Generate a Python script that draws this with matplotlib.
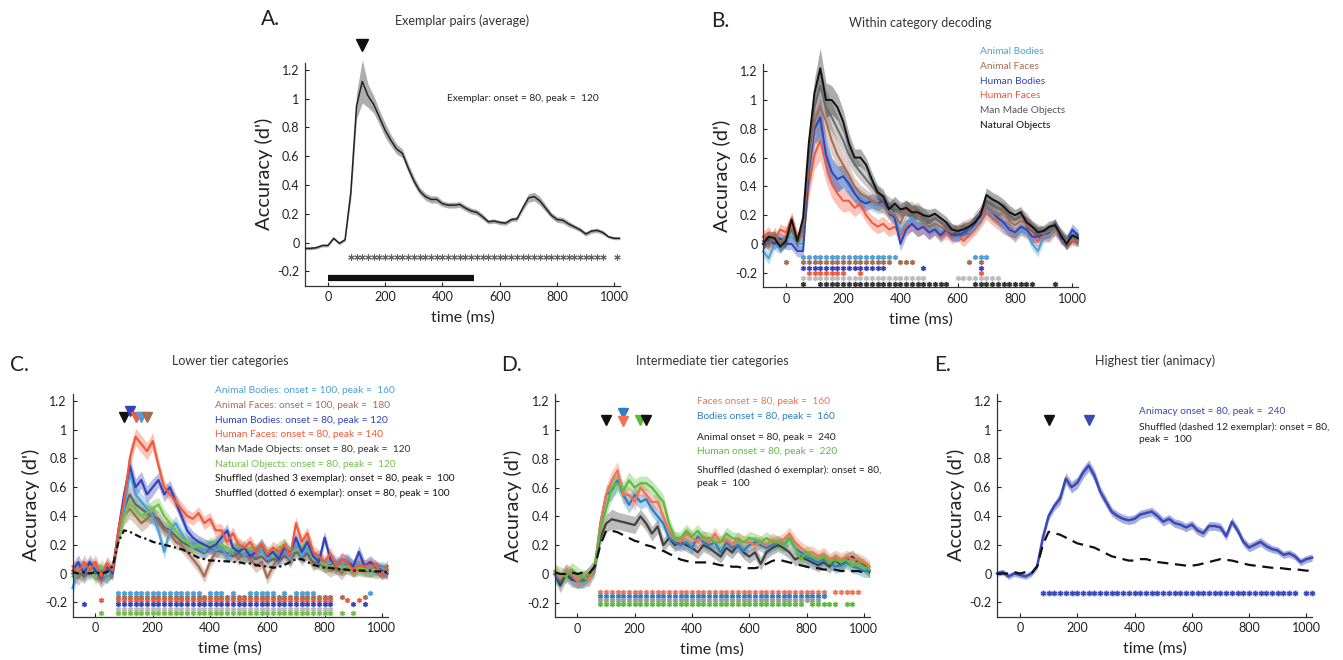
import numpy as np
import matplotlib
matplotlib.use("Agg")
import matplotlib.pyplot as plt

plt.rcParams['font.family'] = ['Lato', 'DejaVu Sans']

# time axis (ms), 20 ms bins
time_ms = list(range(-80, 1021, 20))

# ---- panel A: exemplar pairs
exemplar_mean = [-0.04, -0.04, -0.035, -0.02, -0.02, 0.03, -0.005, 0.02, 0.35, 0.95,
                 1.12, 1.02, 0.96, 0.87, 0.78, 0.71, 0.65, 0.62, 0.52, 0.43,
                 0.36, 0.32, 0.30, 0.30, 0.27, 0.26, 0.26, 0.265, 0.24, 0.22,
                 0.21, 0.18, 0.145, 0.15, 0.14, 0.135, 0.16, 0.165, 0.24, 0.31,
                 0.32, 0.29, 0.24, 0.19, 0.16, 0.155, 0.13, 0.11, 0.09, 0.06,
                 0.08, 0.085, 0.07, 0.04, 0.03, 0.03]
exemplar_sem = [0.01, 0.01, 0.01, 0.01, 0.01, 0.01, 0.01, 0.01, 0.05, 0.09,
                0.15, 0.08, 0.06, 0.05, 0.05, 0.04, 0.035, 0.03, 0.03, 0.03,
                0.025, 0.025, 0.025, 0.025, 0.02, 0.02, 0.02, 0.02, 0.02, 0.02,
                0.02, 0.02, 0.015, 0.015, 0.015, 0.015, 0.015, 0.015, 0.02, 0.03,
                0.03, 0.03, 0.025, 0.02, 0.02, 0.02, 0.02, 0.015, 0.015, 0.015,
                0.015, 0.015, 0.015, 0.01, 0.01, 0.01]
exemplar_sig = [(80, 960), (1010, 1010)]

# ---- panel B: within category decoding
b_labels = ['Animal Bodies', 'Animal Faces', 'Human Bodies', 'Human Faces',
            'Man Made Objects', 'Natural Objects']
b_animal_bodies = [-0.05, -0.10, 0.0, -0.03, 0.02, 0.05, 0.0, 0.0, 0.50, 0.80,
                   0.85, 0.60, 0.50, 0.45, 0.47, 0.40, 0.35, 0.32, 0.30, 0.28,
                   0.26, 0.27, 0.24, 0.20, 0.08, 0.15, 0.18, 0.14, 0.16, 0.10,
                   0.12, 0.08, 0.10, 0.06, 0.05, 0.10, 0.08, 0.12, 0.18, 0.25,
                   0.20, 0.18, 0.12, 0.10, 0.06, 0.10, 0.08, 0.00, -0.05, 0.05,
                   0.06, 0.10, 0.05, 0.00, 0.08, 0.02]
b_animal_faces = [0.05, -0.02, 0.08, 0.0, 0.05, 0.12, 0.03, 0.10, 0.55, 0.85,
                  0.95, 0.85, 0.72, 0.62, 0.55, 0.48, 0.40, 0.35, 0.33, 0.30,
                  0.28, 0.26, 0.22, 0.20, 0.14, 0.24, 0.25, 0.20, 0.15, 0.12,
                  0.14, 0.12, 0.10, 0.08, 0.10, 0.12, 0.14, 0.15, 0.20, 0.26,
                  0.22, 0.20, 0.22, 0.16, 0.13, 0.16, 0.14, 0.10, 0.08, 0.07,
                  0.09, 0.10, 0.06, 0.02, 0.04, 0.02]
b_human_bodies = [0.0, 0.03, 0.0, 0.04, 0.0, 0.0, -0.05, -0.05, 0.50, 0.80,
                  0.88, 0.62, 0.50, 0.45, 0.47, 0.42, 0.35, 0.30, 0.28, 0.30,
                  0.28, 0.30, 0.22, 0.18, 0.00, 0.10, 0.14, 0.10, 0.12, 0.08,
                  0.10, 0.06, 0.10, 0.06, 0.06, 0.08, 0.10, 0.14, 0.20, 0.26,
                  0.22, 0.18, 0.15, 0.10, 0.08, 0.12, 0.10, 0.05, 0.05, 0.07,
                  0.08, 0.14, 0.04, 0.02, 0.10, 0.06]
b_human_faces = [0.05, 0.08, 0.02, 0.10, 0.08, 0.18, 0.05, 0.05, 0.40, 0.62,
                 0.72, 0.55, 0.42, 0.35, 0.30, 0.30, 0.25, 0.28, 0.20, 0.15,
                 0.12, 0.14, 0.10, 0.12, 0.06, 0.12, 0.14, 0.10, 0.12, 0.08,
                 0.10, 0.05, 0.08, 0.04, 0.06, 0.02, 0.06, 0.10, 0.16, 0.22,
                 0.18, 0.15, 0.12, 0.10, 0.05, 0.10, 0.08, 0.05, 0.02, 0.06,
                 0.05, 0.10, 0.04, 0.00, 0.03, 0.02]
b_man_made = [0.02, 0.0, 0.05, 0.0, 0.03, 0.10, 0.0, 0.12, 0.60, 0.95,
              1.10, 0.95, 0.88, 0.80, 0.72, 0.62, 0.55, 0.50, 0.45, 0.40,
              0.35, 0.30, 0.28, 0.25, 0.22, 0.26, 0.22, 0.24, 0.20, 0.16,
              0.18, 0.15, 0.12, 0.10, 0.08, 0.12, 0.10, 0.18, 0.22, 0.30,
              0.28, 0.25, 0.24, 0.20, 0.17, 0.20, 0.18, 0.12, 0.10, 0.08,
              0.10, 0.12, 0.07, 0.03, 0.05, 0.03]
b_natural = [0.0, 0.05, 0.04, -0.02, 0.02, 0.17, 0.02, 0.18, 0.70, 1.05,
             1.22, 1.00, 1.00, 0.95, 0.85, 0.70, 0.60, 0.60, 0.55, 0.45,
             0.36, 0.33, 0.24, 0.28, 0.24, 0.25, 0.22, 0.22, 0.20, 0.19,
             0.21, 0.18, 0.15, 0.10, 0.09, 0.10, 0.12, 0.15, 0.20, 0.34,
             0.31, 0.29, 0.26, 0.22, 0.20, 0.22, 0.15, 0.12, 0.08, 0.09,
             0.12, 0.13, 0.06, 0.00, 0.06, 0.04]
b_sem = [0.04, 0.04, 0.04, 0.04, 0.04, 0.04, 0.04, 0.04, 0.08, 0.10,
         0.14, 0.12, 0.10, 0.09, 0.08, 0.07, 0.06, 0.06, 0.05, 0.05,
         0.05, 0.05, 0.05, 0.05, 0.05, 0.05, 0.05, 0.05, 0.05, 0.05,
         0.04, 0.04, 0.04, 0.04, 0.04, 0.04, 0.04, 0.04, 0.05, 0.05,
         0.05, 0.05, 0.05, 0.05, 0.04, 0.04, 0.04, 0.04, 0.04, 0.04,
         0.04, 0.04, 0.04, 0.04, 0.04, 0.04]
b_sig = [[(60, 380), (660, 700)],
         [(0, 0), (60, 360), (400, 440), (640, 640), (680, 680)],
         [(60, 320), (340, 340), (480, 480), (680, 680)],
         [(80, 200), (260, 260), (680, 680)],
         [(60, 480), (600, 740)],
         [(60, 60), (120, 560), (660, 820), (840, 860), (940, 940)]]
b_sig_y = [-0.09, -0.128, -0.165, -0.2, -0.24, -0.275]

# ---- panel C: lower tier categories
c_labels = ['Animal Bodies: onset = 100, peak =  160',
            'Animal Faces: onset = 100, peak =  180',
            'Human Bodies: onset = 80, peak = 120',
            'Human Faces: onset = 80, peak = 140',
            'Man Made Objects: onset = 80, peak =  120',
            'Natural Objects: onset = 80, peak =  120',
            'Shuffled (dashed 3 exemplar): onset = 80, peak =  100',
            'Shuffled (dotted 6 exemplar): onset = 80, peak = 100']
c_animal_bodies = [-0.10, 0.02, 0.05, 0.0, 0.05, 0.0, -0.02, 0.03, 0.25, 0.45,
                   0.70, 0.55, 0.50, 0.45, 0.40, 0.30, 0.15, 0.30, 0.35, 0.28,
                   0.22, 0.20, 0.18, 0.15, 0.20, 0.16, 0.18, 0.12, 0.15, 0.18,
                   0.12, 0.15, 0.14, 0.16, 0.10, 0.14, 0.12, 0.16, 0.10, 0.20,
                   0.12, 0.18, 0.10, 0.12, 0.06, 0.10, 0.08, 0.05, 0.10, 0.05,
                   0.08, 0.04, 0.05, 0.03, 0.04, 0.02]
c_animal_faces = [0.0, -0.03, 0.02, 0.05, 0.0, -0.05, 0.0, 0.02, 0.25, 0.40,
                  0.45, 0.40, 0.35, 0.38, 0.42, 0.35, 0.30, 0.28, 0.22, 0.20,
                  0.15, 0.10, 0.05, -0.02, 0.08, 0.15, 0.18, 0.12, 0.16, 0.10,
                  0.14, 0.10, 0.05, 0.08, -0.03, 0.05, 0.12, 0.15, 0.08, 0.18,
                  0.10, 0.14, 0.06, 0.10, 0.05, 0.02, 0.04, 0.00, 0.06, 0.03,
                  0.05, 0.03, 0.02, 0.04, 0.00, 0.05]
c_human_bodies = [0.02, 0.08, 0.0, 0.08, 0.02, -0.03, 0.05, 0.0, 0.30, 0.55,
                  0.75, 0.60, 0.65, 0.55, 0.60, 0.65, 0.55, 0.60, 0.50, 0.40,
                  0.30, 0.25, 0.22, 0.20, 0.18, 0.20, 0.25, 0.30, 0.18, 0.15,
                  0.18, 0.12, 0.15, 0.20, 0.12, 0.15, 0.10, 0.18, 0.14, 0.25,
                  0.15, 0.22, 0.12, 0.08, 0.25, 0.10, 0.05, 0.10, 0.08, 0.05,
                  0.15, 0.05, 0.08, 0.04, 0.02, 0.00]
c_human_faces = [0.05, 0.0, 0.08, 0.02, 0.08, -0.02, 0.07, 0.02, 0.30, 0.50,
                 0.80, 0.95, 0.90, 0.85, 0.92, 0.75, 0.60, 0.55, 0.50, 0.45,
                 0.40, 0.38, 0.42, 0.35, 0.38, 0.30, 0.30, 0.22, 0.28, 0.20,
                 0.18, 0.22, 0.15, 0.20, 0.13, 0.18, 0.15, 0.20, 0.12, 0.35,
                 0.22, 0.28, 0.15, 0.12, 0.08, 0.14, 0.05, 0.10, 0.08, 0.02,
                 0.06, 0.05, 0.06, 0.05, 0.00, 0.03]
c_man_made = [0.0, 0.02, -0.02, 0.03, 0.0, 0.02, -0.02, 0.03, 0.28, 0.45,
              0.55, 0.48, 0.45, 0.42, 0.40, 0.38, 0.32, 0.30, 0.26, 0.22,
              0.20, 0.18, 0.16, 0.14, 0.18, 0.16, 0.15, 0.14, 0.12, 0.14,
              0.12, 0.13, 0.10, 0.12, 0.08, 0.10, 0.09, 0.12, 0.10, 0.15,
              0.12, 0.14, 0.08, 0.07, 0.05, 0.06, 0.04, 0.03, 0.04, 0.02,
              0.03, 0.02, 0.02, 0.01, 0.02, 0.02]
c_natural = [-0.02, 0.03, 0.0, 0.05, -0.03, 0.05, 0.0, 0.02, 0.25, 0.40,
             0.48, 0.45, 0.40, 0.42, 0.45, 0.48, 0.40, 0.35, 0.30, 0.25,
             0.22, 0.18, 0.20, 0.18, 0.20, 0.22, 0.20, 0.18, 0.16, 0.20,
             0.15, 0.18, 0.16, 0.18, 0.15, 0.12, 0.18, 0.20, 0.15, 0.16,
             0.18, 0.22, 0.10, 0.08, 0.06, 0.05, 0.06, 0.04, 0.05, 0.02,
             0.04, 0.03, 0.02, 0.03, 0.02, 0.02]
c_shuffled = [0.01, 0.0, 0.01, 0.0, 0.01, 0.0, 0.01, 0.05, 0.22, 0.30,
              0.29, 0.27, 0.25, 0.24, 0.22, 0.21, 0.20, 0.19, 0.18, 0.17,
              0.15, 0.13, 0.11, 0.10, 0.09, 0.09, 0.085, 0.085, 0.08, 0.08,
              0.07, 0.07, 0.06, 0.05, 0.05, 0.04, 0.045, 0.06, 0.08, 0.10,
              0.10, 0.08, 0.06, 0.05, 0.04, 0.04, 0.03, 0.03, 0.025, 0.02,
              0.02, 0.02, 0.02, 0.015, 0.015, 0.01]
c_sem = [0.05, 0.05, 0.05, 0.05, 0.05, 0.05, 0.05, 0.05, 0.05, 0.06,
         0.07, 0.06, 0.06, 0.06, 0.06, 0.05, 0.05, 0.05, 0.05, 0.05,
         0.045, 0.045, 0.045, 0.045, 0.045, 0.045, 0.045, 0.045, 0.045, 0.045,
         0.045, 0.045, 0.045, 0.045, 0.045, 0.045, 0.045, 0.045, 0.045, 0.045,
         0.045, 0.045, 0.045, 0.045, 0.045, 0.045, 0.045, 0.045, 0.045, 0.045,
         0.045, 0.045, 0.045, 0.045, 0.045, 0.045]
c_sig = [[(80, 360), (400, 440), (480, 480), (540, 620), (660, 660), (700, 760), (960, 960)],
         [(80, 820), (860, 860), (940, 940)],
         [(20, 20), (80, 820), (880, 880), (920, 920)],
         [(-40, -40), (80, 780), (800, 820), (900, 900), (940, 940)],
         [(80, 820)],
         [(20, 20), (80, 820), (860, 860), (900, 900)]]
c_sig_y = [-0.132, -0.16, -0.183, -0.211, -0.243, -0.271]
c_peaks_t = [100, 120, 140, 160, 180]
c_peaks_y = [1.09, 1.13, 1.09, 1.09, 1.09]

# ---- panel D: intermediate tier
d_labels = ['Faces onset = 80, peak =  160', 'Bodies onset = 80, peak =  160',
            'Animal onset = 80, peak =  240', 'Human onset = 80, peak =  220',
            'Shuffled (dashed 6 exemplar): onset = 80,\npeak =  100']
d_faces = [0.02, -0.03, 0.02, 0.0, -0.05, -0.02, -0.04, 0.05, 0.35, 0.55,
           0.65, 0.72, 0.55, 0.55, 0.50, 0.60, 0.55, 0.50, 0.50, 0.40,
           0.30, 0.25, 0.22, 0.28, 0.25, 0.22, 0.26, 0.22, 0.28, 0.22,
           0.24, 0.20, 0.25, 0.22, 0.22, 0.20, 0.22, 0.20, 0.24, 0.22,
           0.24, 0.28, 0.22, 0.18, 0.15, 0.15, 0.12, 0.14, 0.10, 0.12,
           0.10, 0.12, 0.10, 0.10, 0.08, 0.05]
d_bodies = [0.0, -0.05, 0.02, -0.02, -0.05, -0.05, -0.03, 0.03, 0.35, 0.55,
            0.58, 0.65, 0.55, 0.48, 0.55, 0.50, 0.52, 0.45, 0.40, 0.35,
            0.25, 0.22, 0.20, 0.22, 0.18, 0.26, 0.22, 0.20, 0.22, 0.15,
            0.22, 0.18, 0.20, 0.16, 0.20, 0.22, 0.20, 0.18, 0.20, 0.22,
            0.20, 0.25, 0.18, 0.15, 0.12, 0.10, 0.08, 0.10, 0.08, 0.05,
            0.06, 0.08, 0.05, 0.04, 0.02, 0.02]
d_animal = [0.0, -0.08, 0.0, -0.04, -0.05, -0.04, 0.0, 0.05, 0.25, 0.35,
            0.38, 0.37, 0.36, 0.35, 0.34, 0.40, 0.35, 0.28, 0.33, 0.20,
            0.25, 0.20, 0.22, 0.20, 0.18, 0.15, 0.20, 0.18, 0.15, 0.12,
            0.18, 0.15, 0.20, 0.15, 0.12, 0.15, 0.07, 0.15, 0.18, 0.20,
            0.18, 0.15, 0.10, 0.12, 0.10, 0.08, 0.06, 0.08, 0.05, 0.10,
            0.06, 0.10, 0.12, 0.08, 0.06, 0.02]
d_human = [0.02, 0.0, -0.02, 0.03, 0.0, -0.03, 0.0, 0.05, 0.30, 0.45,
           0.60, 0.63, 0.58, 0.65, 0.60, 0.63, 0.63, 0.60, 0.55, 0.50,
           0.35, 0.25, 0.25, 0.30, 0.26, 0.30, 0.25, 0.25, 0.22, 0.22,
           0.28, 0.25, 0.24, 0.22, 0.25, 0.24, 0.22, 0.25, 0.22, 0.22,
           0.20, 0.25, 0.18, 0.10, 0.15, 0.12, 0.10, 0.12, 0.08, 0.10,
           0.08, 0.10, 0.05, 0.08, 0.05, 0.03]
d_shuffled = [0.01, 0.0, 0.0, 0.01, 0.0, 0.01, 0.0, 0.05, 0.20, 0.30,
              0.30, 0.29, 0.27, 0.25, 0.23, 0.22, 0.20, 0.19, 0.17, 0.16,
              0.14, 0.12, 0.10, 0.09, 0.08, 0.08, 0.08, 0.08, 0.07, 0.06,
              0.06, 0.05, 0.05, 0.04, 0.04, 0.04, 0.05, 0.07, 0.09, 0.10,
              0.09, 0.08, 0.07, 0.06, 0.05, 0.04, 0.04, 0.03, 0.03, 0.03,
              0.02, 0.02, 0.02, 0.02, 0.01, 0.01]
d_sig = [[(80, 860), (900, 980)],
         [(80, 860)],
         [(80, 840)],
         [(80, 780), (820, 820), (840, 880), (900, 900), (940, 960)]]
d_sig_y = [-0.123, -0.151, -0.179, -0.207]
d_peaks_t = [100, 160, 160, 220, 240]
d_peaks_y = [1.07, 1.12, 1.06, 1.07, 1.07]

# ---- panel E: animacy
e_animacy = [0.0, 0.01, -0.02, 0.0, -0.01, -0.02, 0.0, 0.05, 0.25, 0.40,
             0.47, 0.52, 0.66, 0.60, 0.63, 0.70, 0.75, 0.68, 0.57, 0.50,
             0.43, 0.40, 0.38, 0.37, 0.38, 0.41, 0.42, 0.43, 0.40, 0.36,
             0.38, 0.35, 0.34, 0.32, 0.34, 0.30, 0.28, 0.33, 0.33, 0.32,
             0.26, 0.36, 0.30, 0.22, 0.18, 0.20, 0.22, 0.19, 0.17, 0.16,
             0.13, 0.14, 0.12, 0.08, 0.10, 0.11]
e_sem = [0.02, 0.02, 0.02, 0.02, 0.02, 0.02, 0.02, 0.02, 0.03, 0.03,
         0.03, 0.04, 0.04, 0.04, 0.04, 0.04, 0.04, 0.04, 0.035, 0.035,
         0.03, 0.03, 0.03, 0.03, 0.03, 0.03, 0.03, 0.03, 0.03, 0.03,
         0.03, 0.03, 0.03, 0.03, 0.03, 0.03, 0.03, 0.03, 0.03, 0.03,
         0.03, 0.03, 0.03, 0.03, 0.03, 0.03, 0.03, 0.03, 0.025, 0.025,
         0.025, 0.025, 0.025, 0.025, 0.025, 0.025]
e_shuffled = [0.0, 0.0, 0.0, 0.01, 0.0, 0.01, 0.0, 0.05, 0.20, 0.29,
              0.28, 0.27, 0.25, 0.23, 0.21, 0.20, 0.19, 0.18, 0.16, 0.14,
              0.12, 0.11, 0.10, 0.09, 0.09, 0.10, 0.10, 0.09, 0.08, 0.075,
              0.07, 0.065, 0.06, 0.055, 0.055, 0.06, 0.07, 0.08, 0.09, 0.10,
              0.095, 0.09, 0.08, 0.07, 0.06, 0.055, 0.05, 0.045, 0.04, 0.04,
              0.035, 0.03, 0.03, 0.025, 0.02, 0.02]
e_sig = [(80, 960), (1000, 1020)]
e_labels = ['Animacy onset = 80, peak =  240',
            'Shuffled (dashed 12 exemplar): onset = 80,\npeak =  100']

# colours
C_ABOD = '#4d9fd6'
C_AFAC = '#a46c52'
C_HBOD = '#3343b8'
C_HFAC = '#f05a3a'
C_NAT_B = '#111111'
C_NAT_C = '#72c04c'
D_FAC = '#f07454'
D_BOD = '#2b7fc6'
D_ANI = '#404040'
D_HUM = '#5cbb3e'
E_ANI = '#3a4ab5'

LEG_FS = 7.3

t = np.array(time_ms)

fig = plt.figure(figsize=(13.43, 6.6), dpi=100)


def make_axes(rect):
    ax = fig.add_axes(rect)
    ax.set_xlim(-80, 1020)
    ax.set_ylim(-0.3, 1.25)
    for s in ['top', 'right']:
        ax.spines[s].set_visible(False)
    for s in ['left', 'bottom']:
        ax.spines[s].set_color('#333333')
        ax.spines[s].set_linewidth(0.9)
    ax.set_xticks([0, 200, 400, 600, 800, 1000])
    ax.set_yticks([-0.2, 0, 0.2, 0.4, 0.6, 0.8, 1.0, 1.2])
    ax.set_yticklabels(['-0.2', '0', '0.2', '0.4', '0.6', '0.8', '1', '1.2'])
    ax.tick_params(direction='in', length=3, width=0.8, labelsize=9, colors='#222222', pad=4)
    ax.set_ylabel("Accuracy (d')", fontsize=14.5, color='#222222')
    ax.set_xlabel('time (ms)', fontsize=11.5, color='#222222')
    ax.yaxis.set_label_coords(-0.103, 0.5)
    ax.xaxis.set_label_coords(0.5, -0.112)
    ax.patch.set_alpha(0)
    return ax


def band(ax, mean, sem, color, lw=1.4, alpha=0.45, ls='-', z=2):
    m = np.array(mean)
    s = np.array(sem)
    ax.fill_between(t, m - s, m + s, color=color, alpha=alpha, lw=0, clip_on=False, zorder=z)
    ax.plot(t, m, color=color, lw=lw, ls=ls, clip_on=False, zorder=z + 0.5)


def sig_row(ax, segs, y, color, dark=None, ms=4.2):
    pts = []
    for a, b in segs:
        pts += list(range(a, b + 1, 20))
    ys = [y] * len(pts)
    ax.plot(pts, ys, ls='none', marker='o', ms=ms, color=color, alpha=0.55, mew=0, clip_on=False, zorder=3)
    ax.plot(pts, ys, ls='none', marker=(6, 2, 0), ms=ms * 0.8, color=dark or color,
            mew=0.7, clip_on=False, zorder=4)


def panel_text(ax, letter, title, x_letter, y_letter, y_title):
    ax.text(x_letter, y_letter, letter, transform=ax.transAxes, fontsize=15, color='#222222',
            ha='left', va='center')
    ax.text(0.5, y_title, title, transform=ax.transAxes, fontsize=9, color='#333333',
            ha='center', va='center')


# ---------------- A
axA = make_axes([0.2271, 0.567, 0.2346, 0.338])
band(axA, exemplar_mean, exemplar_sem, '#777777', lw=0, alpha=0.6)
axA.plot(t, exemplar_mean, color='#222222', lw=1.1, zorder=3)
pts = []
for a, b in exemplar_sig:
    pts += list(range(a, b + 1, 20))
axA.plot(pts, [-0.097] * len(pts), ls='none', marker=(6, 2, 0), ms=4.5, color='#666666', mew=0.8)
axA.plot([0, 510], [-0.243, -0.243], color='#111111', lw=4.5, solid_capstyle='butt')
axA.plot([120], [1.37], marker='v', ms=9, color='#111111', clip_on=False)
axA.text(415, 1.0, 'Exemplar: onset = 80, peak =  120', fontsize=LEG_FS, color='#222222', va='center')
panel_text(axA, 'A.', 'Exemplar pairs (average)', -0.14, 1.195, 1.186)

# ---------------- B
axB = make_axes([0.5681, 0.565, 0.2346, 0.338])
b_series = [b_animal_bodies, b_animal_faces, b_human_bodies, b_human_faces, b_man_made, b_natural]
b_cols = [C_ABOD, C_AFAC, C_HBOD, C_HFAC, '#6a6a6a', C_NAT_B]
b_order = [3, 0, 2, 1, 4, 5]
for i in b_order:
    band(axB, b_series[i], b_sem, b_cols[i], lw=1.4, alpha=0.35)
b_sig_cols = [C_ABOD, C_AFAC, C_HBOD, C_HFAC, '#bbbbbb', '#222222']
for segs, y, c in zip(b_sig, b_sig_y, b_sig_cols):
    sig_row(axB, segs, y, c, dark='#333333' if c == '#222222' else c, ms=4.0)
b_text_y = [1.337, 1.235, 1.132, 1.03, 0.928, 0.825]
b_text_cols = [C_ABOD, C_AFAC, C_HBOD, C_HFAC, '#555555', '#111111']
for lab, y, c in zip(b_labels, b_text_y, b_text_cols):
    axB.text(677, y, lab, fontsize=LEG_FS, color=c, va='center', clip_on=False)
panel_text(axB, 'B.', 'Within category decoding', -0.165, 1.195, 1.186)

# ---------------- C
axC = make_axes([0.054, 0.0656, 0.2346, 0.338])
c_series = [c_animal_faces, c_man_made, c_animal_bodies, c_natural, c_human_bodies, c_human_faces]
c_cols = [C_AFAC, '#666666', C_ABOD, C_NAT_C, C_HBOD, C_HFAC]
for s, c in zip(c_series, c_cols):
    band(axC, s, c_sem, c, lw=1.6, alpha=0.35)
axC.plot(t, c_shuffled, color='#111111', lw=1.6, ls=(0, (3, 1.5, 1, 1.5)), zorder=6)
c_sig_cols = [C_ABOD, C_AFAC, C_HFAC, C_HBOD, '#b8b8b8', C_NAT_C]
for segs, y, c in zip(c_sig, c_sig_y, c_sig_cols):
    sig_row(axC, segs, y, c, ms=4.0)
c_tri_cols = ['#111111', C_HBOD, C_HFAC, C_ABOD, C_AFAC]
for x, y, c in zip(c_peaks_t, c_peaks_y, c_tri_cols):
    axC.plot([x], [y], marker='v', ms=7.5, color=c, clip_on=False, zorder=7)
c_text_y = [1.27, 1.17, 1.066, 0.967, 0.86, 0.76, 0.66, 0.56]
c_text_cols = [C_ABOD, C_AFAC, C_HBOD, C_HFAC, '#333333', C_NAT_C, '#111111', '#111111']
for lab, y, c in zip(c_labels, c_text_y, c_text_cols):
    axC.text(417, y, lab, fontsize=LEG_FS, color=c, va='center', clip_on=False)
panel_text(axC, 'C.', 'Lower tier categories', -0.2, 1.13, 1.147)

# ---------------- D
axD = make_axes([0.4129, 0.065, 0.2346, 0.338])
d_series = [d_animal, d_bodies, d_faces, d_human]
d_cols = [D_ANI, D_BOD, D_FAC, D_HUM]
for s, c in zip(d_series, d_cols):
    band(axD, s, c_sem, c, lw=1.6, alpha=0.35)
axD.plot(t, d_shuffled, color='#111111', lw=1.6, ls=(0, (5, 3)), zorder=6)
d_sig_cols = [D_FAC, D_BOD, '#9a9a9a', D_HUM]
for segs, y, c in zip(d_sig, d_sig_y, d_sig_cols):
    sig_row(axD, segs, y, c, ms=4.0)
d_tri_cols = ['#111111', D_BOD, D_FAC, D_HUM, '#111111']
for x, y, c in zip(d_peaks_t, d_peaks_y, d_tri_cols):
    axD.plot([x], [y], marker='v', ms=7.5, color=c, clip_on=False, zorder=7)
d_text_y = [1.199, 1.094, 0.95, 0.85, 0.675]
d_text_cols = [D_FAC, D_BOD, '#222222', D_HUM, '#222222']
for lab, y, c in zip(d_labels, d_text_y, d_text_cols):
    axD.text(417, y, lab, fontsize=LEG_FS, color=c, va='center', clip_on=False, linespacing=1.5)
panel_text(axD, 'D.', 'Intermediate tier categories', -0.17, 1.13, 1.147)

# ---------------- E
axE = make_axes([0.7424, 0.0656, 0.2346, 0.338])
band(axE, e_animacy, e_sem, E_ANI, lw=1.8, alpha=0.45)
axE.plot(t, e_shuffled, color='#111111', lw=1.6, ls=(0, (5, 3)), zorder=6)
sig_row(axE, e_sig, -0.132, E_ANI, ms=4.4)
axE.plot([100], [1.07], marker='v', ms=7.5, color='#111111', clip_on=False)
axE.plot([240], [1.07], marker='v', ms=7.5, color=E_ANI, clip_on=False)
axE.text(417, 1.126, e_labels[0], fontsize=LEG_FS, color=E_ANI, va='center', clip_on=False)
axE.text(417, 0.975, e_labels[1], fontsize=LEG_FS, color='#222222', va='center', clip_on=False,
         linespacing=1.5)
panel_text(axE, 'E.', 'Highest tier (animacy)', -0.2, 1.13, 1.147)

fig.savefig('out.png', dpi=100)
